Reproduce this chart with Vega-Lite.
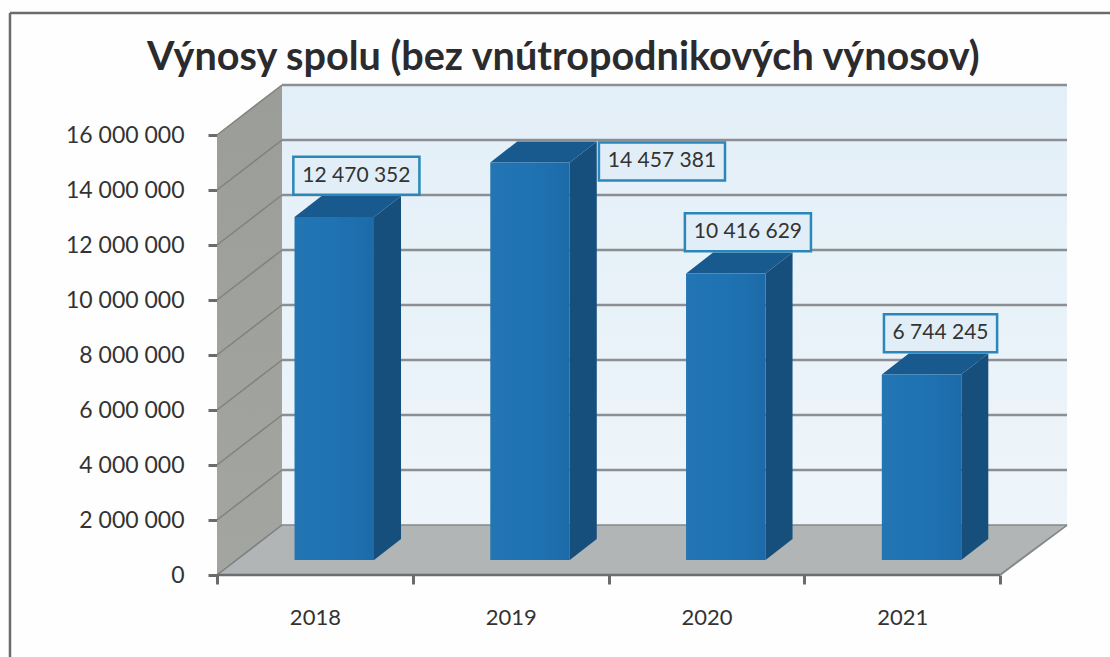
{
"$schema":"https://vega.github.io/schema/vega-lite/v6.json",
"width":850,"height":490,
"autosize":{"type":"none"},
"padding":{"left":217,"top":85,"right":43,"bottom":82},
"background":"#fefefe",
"config":{"view":{"stroke":null},"locale":{"number":{"decimal":",","thousands":" ","grouping":[3],"currency":["","€"]}}},
"title":{"text":"Výnosy spolu (bez vnútropodnikových výnosov)","anchor":"start","frame":"group","dx":-70,"dy":76,"offset":9,"font":"Lato","fontWeight":"bold","fontSize":39.6,"color":"#2b2b2e"},
"datasets":{
"bars":[{"year":2018,"value":12470352},{"year":2019,"value":14457381},{"year":2020,"value":10416629},{"year":2021,"value":6744245}],
"levels":[{"level":2000000},{"level":4000000},{"level":6000000},{"level":8000000},{"level":10000000},{"level":12000000},{"level":14000000},{"level":16000000}],
"depth":[{"d":0},{"d":1}],
"one":[{"d":0}]
},
"layer":[
{"data":{"name":"depth"},"transform":[{"calculate":"datum.d*0.332","as":"px"},{"calculate":"datum.d*1818182","as":"lo"},{"calculate":"16000000+datum.d*1818182","as":"hi"}],
 "mark":{"type":"area","color":{"gradient":"linear","x1":0,"y1":0,"x2":0,"y2":1,"stops":[{"offset":0,"color":"#9b9e98"},{"offset":1,"color":"#a3a5a1"}]}},
 "encoding":{
  "x":{"field":"px","type":"quantitative","scale":{"domain":[0,4.342],"nice":false,"zero":false},
   "axis":{"title":null,"grid":false,"domain":false,"values":[0,0.5,1,1.5,2,2.5,3,3.5,4],"labelExpr":"datum.value % 1 === 0 ? '' : '' + (2018 + floor(datum.value))","tickOpacity":{"condition":{"test":"datum.value % 1 === 0","value":1},"value":0},"tickSize":9,"tickWidth":3,"tickColor":"#6b6b6b","labelFont":"Lato","labelFontSize":22,"labelColor":"#333333","labelPadding":23,"labelFlush":false,"labelOverlap":false}},
  "y":{"field":"hi","type":"quantitative","scale":{"domain":[0,17818182],"nice":false},
   "axis":{"title":null,"grid":false,"domain":false,"values":[0,2000000,4000000,6000000,8000000,10000000,12000000,14000000,16000000],"labelExpr":"format(datum.value, ',')","tickSize":9,"tickWidth":3,"tickColor":"#6b6b6b","labelFont":"Lato","labelFontSize":23,"labelColor":"#333333","labelPadding":24,"labelFlush":false,"labelOverlap":false}},
  "y2":{"field":"lo"}}},
{"data":{"name":"one"},"mark":{"type":"rect","color":{"gradient":"linear","x1":0,"y1":0,"x2":0,"y2":1,"stops":[{"offset":0,"color":"#e3eff8"},{"offset":1,"color":"#eef5fa"}]}},
 "encoding":{
  "x":{"datum":0.332,"type":"quantitative","title":null},
  "x2":{"datum":4.342},
  "y":{"datum":1818182,"type":"quantitative","title":null},
  "y2":{"datum":17818182}}},
{"data":{"name":"depth"},"transform":[{"calculate":"datum.d*1818182","as":"py"},{"calculate":"datum.d*0.332","as":"xa"},{"calculate":"4+datum.d*0.332","as":"xb"}],
 "mark":{"type":"area","orient":"horizontal","color":"#b1b5b6"},
 "encoding":{
  "y":{"field":"py","type":"quantitative","title":null},
  "x":{"field":"xa","type":"quantitative","title":null},
  "x2":{"field":"xb"}}},
{"data":{"name":"levels"},"transform":[{"calculate":"datum.level+1818182","as":"back"}],
 "mark":{"type":"rule","color":"#8b8f93","strokeWidth":2.5},
 "encoding":{
  "x":{"datum":0.332,"type":"quantitative","title":null},
  "x2":{"datum":4.342},
  "y":{"field":"back","type":"quantitative","title":null}}},
{"data":{"name":"levels"},"transform":[{"calculate":"datum.level+1818182","as":"back"}],
 "mark":{"type":"rule","color":"#85807c","strokeWidth":1.5},
 "encoding":{
  "x":{"datum":0,"type":"quantitative","title":null},
  "x2":{"datum":0.332},
  "y":{"field":"level","type":"quantitative","title":null},
  "y2":{"field":"back"}}},
{"data":{"name":"one"},"mark":{"type":"rule","color":"#7c7f82","strokeWidth":1.5},
 "encoding":{
  "x":{"datum":0,"type":"quantitative","title":null},
  "x2":{"datum":0.332},
  "y":{"datum":0,"type":"quantitative","title":null},
  "y2":{"datum":1818182}}},
{"data":{"name":"one"},"mark":{"type":"rule","color":"#85888a","strokeWidth":2},
 "encoding":{
  "x":{"datum":4,"type":"quantitative","title":null},
  "x2":{"datum":4.342},
  "y":{"datum":0,"type":"quantitative","title":null},
  "y2":{"datum":1818182}}},
{"data":{"name":"one"},"mark":{"type":"rule","color":"#85888a","strokeWidth":1.5},
 "encoding":{
  "x":{"datum":0.332,"type":"quantitative","title":null},
  "x2":{"datum":4.342},
  "y":{"datum":1818182,"type":"quantitative","title":null}}},
{"data":{"name":"one"},"mark":{"type":"rule","color":"#6e6e70","strokeWidth":2.5},
 "encoding":{
  "x":{"datum":0,"type":"quantitative","title":null},
  "x2":{"datum":4},
  "y":{"datum":0,"type":"quantitative","title":null}}},
{"data":{"name":"one"},"mark":{"type":"rule","color":"#6b6b6d","strokeWidth":2.5},
 "encoding":{
  "x":{"datum":-1.0575,"type":"quantitative","title":null},
  "y":{"datum":-2980000,"type":"quantitative","title":null},
  "y2":{"datum":20436000}}},
{"data":{"name":"one"},"mark":{"type":"rule","color":"#6b6b6d","strokeWidth":2.5},
 "encoding":{
  "x":{"datum":-1.0575,"type":"quantitative","title":null},
  "x2":{"datum":4.562},
  "y":{"datum":20436000,"type":"quantitative","title":null}}},
{"data":{"name":"bars"},"transform":[{"calculate":"[0,1]","as":"d"},{"flatten":["d"]},{"calculate":"datum.year-2018+0.802+datum.d*0.138","as":"px"},{"calculate":"545000+datum.d*764000","as":"lo"},{"calculate":"datum.value+datum.lo","as":"hi"}],
 "mark":{"type":"area","color":"#174f7c"},
 "encoding":{
  "detail":{"field":"year"},
  "x":{"field":"px","type":"quantitative","title":null},
  "y":{"field":"hi","type":"quantitative","title":null},
  "y2":{"field":"lo"}}},
{"data":{"name":"bars"},"transform":[{"calculate":"[0,1]","as":"d"},{"flatten":["d"]},{"calculate":"datum.year-2018+0.396+datum.d*0.138","as":"xa"},{"calculate":"datum.xa+0.406","as":"xb"},{"calculate":"datum.value+545000+datum.d*764000","as":"py"}],
 "mark":{"type":"area","orient":"horizontal","color":"#185a8d"},
 "encoding":{
  "detail":{"field":"year"},
  "y":{"field":"py","type":"quantitative","title":null},
  "x":{"field":"xa","type":"quantitative","title":null},
  "x2":{"field":"xb"}}},
{"data":{"name":"bars"},"transform":[{"calculate":"datum.year-2018+0.396","as":"xa"},{"calculate":"datum.xa+0.406","as":"xb"},{"calculate":"datum.value+545000","as":"top"},{"calculate":"545000","as":"base"}],
 "mark":{"type":"rect","color":{"gradient":"linear","x1":0,"y1":0,"x2":1,"y2":0,"stops":[{"offset":0,"color":"#2375b3"},{"offset":0.5,"color":"#1f73b3"},{"offset":1,"color":"#1c6ba8"}]}},
 "encoding":{
  "x":{"field":"xa","type":"quantitative","title":null},
  "x2":{"field":"xb"},
  "y":{"field":"top","type":"quantitative","title":null},
  "y2":{"field":"base"}}},
{"data":{"name":"bars"},"transform":[
  {"calculate":"datum.year-2018+(datum.year===2019?1.273:(datum.value<10000000?0.696:0.712))","as":"cx"},
  {"calculate":"datum.value+(datum.year===2019?580000:2050000)","as":"cy"},
  {"calculate":"datum.value<10000000?0.289:0.322","as":"hw"},
  {"calculate":"datum.cx-datum.hw","as":"xa"},{"calculate":"datum.cx+datum.hw","as":"xb"},
  {"calculate":"datum.cy-690000","as":"ya"},{"calculate":"datum.cy+690000","as":"yb"}],
 "mark":{"type":"rect","fill":"#e2eef7","stroke":"#2b87b9","strokeWidth":2.5},
 "encoding":{
  "x":{"field":"xa","type":"quantitative","title":null},
  "x2":{"field":"xb"},
  "y":{"field":"ya","type":"quantitative","title":null},
  "y2":{"field":"yb"}}},
{"data":{"name":"bars"},"transform":[
  {"calculate":"datum.year-2018+(datum.year===2019?1.273:(datum.value<10000000?0.696:0.712))","as":"cx"},
  {"calculate":"datum.value+(datum.year===2019?580000:2050000)","as":"cy"}],
 "mark":{"type":"text","font":"Lato","fontSize":21,"color":"#333333","align":"center","baseline":"middle"},
 "encoding":{
  "x":{"field":"cx","type":"quantitative","title":null},
  "y":{"field":"cy","type":"quantitative","title":null},
  "text":{"field":"value","type":"quantitative","format":","}}}
]
}
